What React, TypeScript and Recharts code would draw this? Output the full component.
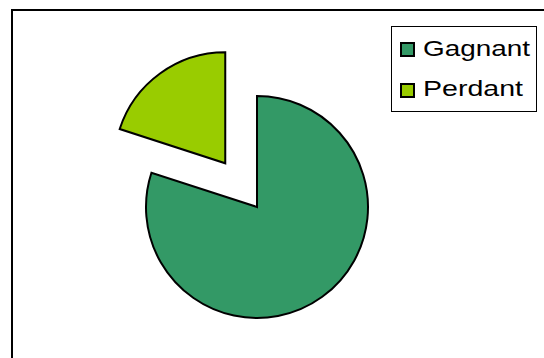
import { PieChart, Pie, Cell, Legend } from "recharts";

const categories = ["Gagnant", "Perdant"];
const values = [80, 20];
const colors = ["#339966", "#99CC00"];

const data = categories.map((name, i) => ({ name, value: values[i] }));

// Perdant slice is pulled out along its mid angle
const total = values.reduce((s, v) => s + v, 0);
const explodeIndex = 1;
const startAngle = 90;
const before = values.slice(0, explodeIndex).reduce((s, v) => s + v, 0);
const midAngle =
  startAngle - ((before + values[explodeIndex] / 2) / total) * 360;
const explode = 54;
const cx = 257;
const cy = 207;
const ex = cx + explode * Math.cos((midAngle * Math.PI) / 180);
const ey = cy - explode * Math.sin((midAngle * Math.PI) / 180);

const textLengths = [107, 100];

function renderLegend() {
  return (
    <svg width={147} height={87} style={{ display: "block" }}>
      <rect x={0.5} y={0.5} width={145} height={85} fill="#fff" stroke="#000" strokeWidth={1} />
      {categories.map((name, i) => (
        <g key={name}>
          <rect
            x={10}
            y={17 + i * 41}
            width={13}
            height={13}
            fill={colors[i]}
            stroke="#000"
            strokeWidth={2}
          />
          <text
            x={32}
            y={30 + i * 40}
            fontFamily="'Liberation Sans', Arial, sans-serif"
            fontSize={22}
            fill="#000"
            textLength={textLengths[i]}
            lengthAdjust="spacingAndGlyphs"
          >
            {name}
          </text>
        </g>
      ))}
    </svg>
  );
}

export default function App() {
  return (
    <div
      style={{
        position: "absolute",
        left: 0,
        top: 0,
        width: 544,
        height: 358,
        overflow: "hidden",
        background: "#fff",
      }}
    >
      <div
        style={{
          position: "absolute",
          left: 11,
          top: 9,
          width: 600,
          height: 400,
          border: "2px solid #000",
        }}
      />
      <div style={{ position: "absolute", left: 0, top: 0 }}>
        <PieChart width={544} height={358} margin={{ top: 0, right: 0, bottom: 0, left: 0 }}>
          <Pie
            data={data}
            dataKey="value"
            nameKey="name"
            cx={cx}
            cy={cy}
            outerRadius={111}
            startAngle={startAngle}
            endAngle={startAngle - 360}
            isAnimationActive={false}
            stroke="#000"
            strokeWidth={2}
          >
            {data.map((d, i) => (
              <Cell
                key={d.name}
                fill={i === explodeIndex ? "none" : colors[i]}
                stroke={i === explodeIndex ? "none" : "#000"}
              />
            ))}
          </Pie>
          <Pie
            data={data}
            dataKey="value"
            nameKey="name"
            cx={ex}
            cy={ey}
            outerRadius={111}
            startAngle={startAngle}
            endAngle={startAngle - 360}
            isAnimationActive={false}
            stroke="#000"
            strokeWidth={2}
            legendType="none"
          >
            {data.map((d, i) => (
              <Cell
                key={d.name}
                fill={i === explodeIndex ? colors[i] : "none"}
                stroke={i === explodeIndex ? "#000" : "none"}
              />
            ))}
          </Pie>
          <Legend
            content={renderLegend}
            wrapperStyle={{ position: "absolute", left: 391, top: 26, width: 147, height: 87 }}
          />
        </PieChart>
      </div>
    </div>
  );
}
